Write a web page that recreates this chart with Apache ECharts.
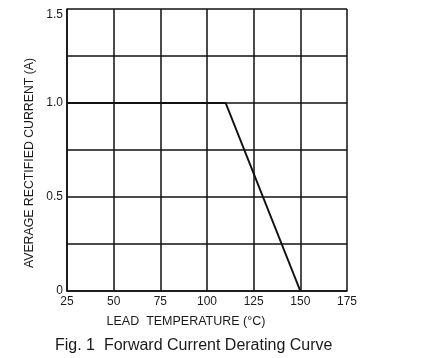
<!DOCTYPE html>
<html><head><meta charset="utf-8">
<script src="https://cdn.jsdelivr.net/npm/echarts@6/dist/echarts.min.js"></script>
<style>html,body{margin:0;padding:0;background:#fff}#c{width:433px;height:358px}</style>
</head><body><div id="c"></div>
<script>
const temperature = [25, 110, 150];
const current = [1.0, 1.0, 0];
const xTicks = [25, 50, 75, 100, 125, 150, 175];
const yTickLabels = {0: '0', 0.5: '0.5', 1: '1.0', 1.5: '1.5'};
const xTitle = 'LEAD  TEMPERATURE (°C)';
const yTitle = 'AVERAGE RECTIFIED CURRENT (A)';
const caption = 'Fig. 1  Forward Current Derating Curve';

const chart = echarts.init(document.getElementById('c'), null, {renderer: 'canvas'});
const font = 'Liberation Sans, Arial, sans-serif';
chart.setOption({
  animation: false,
  backgroundColor: '#fff',
  grid: {left: 67, top: 9, width: 280, height: 282, containLabel: false},
  xAxis: {
    type: 'value', min: 25, max: 175, interval: 25,
    axisLine: {show: true, lineStyle: {color: '#111', width: 1.5}},
    axisTick: {show: false},
    splitLine: {show: true, lineStyle: {color: '#111', width: 1.5}},
    axisLabel: {color: '#1a1a1a', fontFamily: font, fontSize: 12, margin: 5,
      formatter: v => xTicks.includes(v) ? String(v) : ''}
  },
  yAxis: {
    type: 'value', min: 0, max: 1.5, interval: 0.25,
    axisLine: {show: true, lineStyle: {color: '#111', width: 1.5}},
    axisTick: {show: false},
    splitLine: {show: true, lineStyle: {color: '#111', width: 1.5}},
    axisLabel: {color: '#1a1a1a', fontFamily: font, fontSize: 12, margin: 4,
      formatter: v => {
        const t = yTickLabels[v];
        if (t === undefined) return '';
        return v === 1.5 ? '{top|' + t + '}' : t;
      },
      rich: {top: {color: '#1a1a1a', fontFamily: font, fontSize: 12, padding: [12, 0, 0, 0]}}
    }
  },
  series: [{
    type: 'line',
    data: temperature.map((t, i) => [t, current[i]]),
    symbol: 'none',
    lineStyle: {color: '#111', width: 2},
    z: 5
  }],
  graphic: [
    {type: 'text', x: 186, y: 322, style: {text: xTitle, fill: '#1a1a1a', font: '12.5px ' + font, textAlign: 'center', textVerticalAlign: 'middle'}},
    {type: 'text', x: 30, y: 163, rotation: Math.PI / 2, style: {text: yTitle, fill: '#1a1a1a', font: '12.3px ' + font, textAlign: 'center', textVerticalAlign: 'middle'}},
    {type: 'text', x: 55, y: 346, style: {text: caption, fill: '#1a1a1a', font: '16px ' + font, textAlign: 'left', textVerticalAlign: 'middle'}}
  ]
});
</script></body></html>
